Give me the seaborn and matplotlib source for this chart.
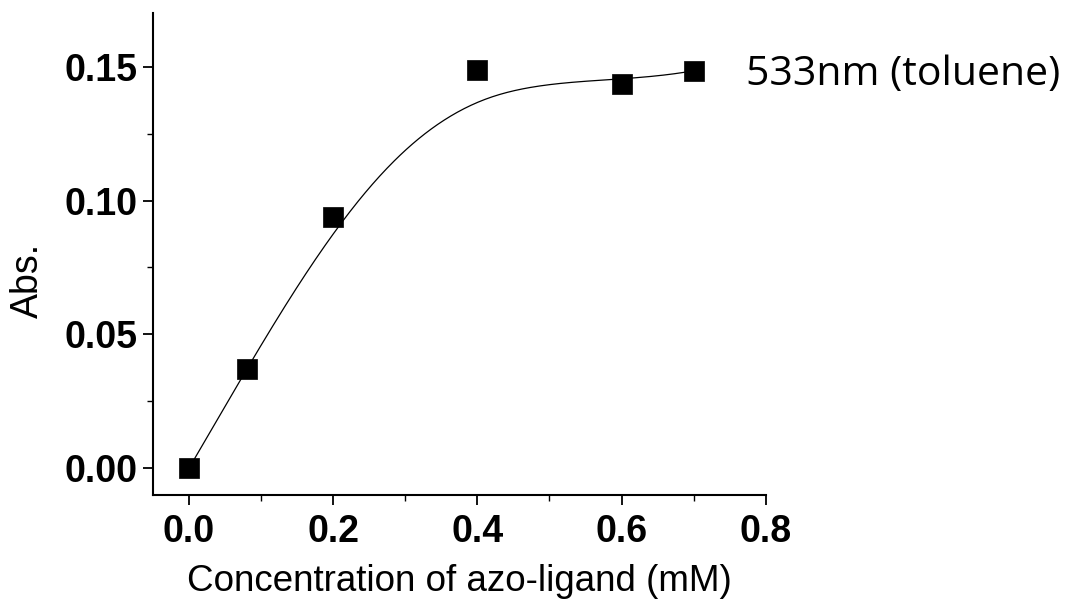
import numpy as np
import pandas as pd
import seaborn as sns
import matplotlib.pyplot as plt

# Data
conc = [0.0, 0.08, 0.2, 0.4, 0.6, 0.7]
absorb = [0.0, 0.037, 0.0937, 0.1489, 0.1437, 0.1485]
series_label = "533nm (toluene)"

sns.set_theme(style="ticks")
plt.rcParams["font.family"] = ["Liberation Sans", "DejaVu Sans"]
plt.rcParams["text.color"] = "black"
plt.rcParams["axes.labelcolor"] = "black"
plt.rcParams["xtick.color"] = "black"
plt.rcParams["ytick.color"] = "black"
plt.rcParams["axes.edgecolor"] = "black"


def bspline_curve(xs, ys, n=300, k=3):
    # clamped B-spline using the data points as control points (Origin-like connect)
    ctrl = np.column_stack([xs, ys])
    m = len(ctrl)
    inner = np.linspace(0, 1, m - k + 1)[1:-1]
    knots = np.concatenate([np.zeros(k + 1), inner, np.ones(k + 1)])
    t = np.linspace(0, 1, n)
    t[-1] = 1 - 1e-12

    def basis(i, p, u):
        if p == 0:
            return np.where((knots[i] <= u) & (u < knots[i + 1]), 1.0, 0.0)
        left = 0.0
        right = 0.0
        d1 = knots[i + p] - knots[i]
        d2 = knots[i + p + 1] - knots[i + 1]
        if d1 > 0:
            left = (u - knots[i]) / d1 * basis(i, p - 1, u)
        if d2 > 0:
            right = (knots[i + p + 1] - u) / d2 * basis(i + 1, p - 1, u)
        return left + right

    B = np.array([basis(i, k, t) for i in range(m)])
    pts = B.T @ ctrl
    return pts[:, 0], pts[:, 1]


cx, cy = bspline_curve(np.array(conc), np.array(absorb))
df_pts = pd.DataFrame({"x": conc, "y": absorb})
df_curve = pd.DataFrame({"x": cx, "y": cy})

fig = plt.figure(figsize=(10.77, 6.0), dpi=100)
ax = fig.add_axes([0.142, 0.175, 0.569, 0.803])

sns.lineplot(data=df_curve, x="x", y="y", ax=ax, color="black", linewidth=0.9,
             sort=False, estimator=None)
sns.scatterplot(data=df_pts, x="x", y="y", ax=ax, marker="s", s=220,
                color="black", edgecolor="black", linewidth=0.5, zorder=3)

ax.set_xlim(-0.05, 0.8)
ax.set_ylim(-0.01, 0.17)
ax.set_xticks([0.0, 0.2, 0.4, 0.6, 0.8])
ax.set_xticks([0.1, 0.3, 0.5, 0.7], minor=True)
ax.set_yticks([0.0, 0.05, 0.10, 0.15])
ax.set_yticks([0.025, 0.075, 0.125], minor=True)
ax.set_xticklabels(["0.0", "0.2", "0.4", "0.6", "0.8"])
ax.set_yticklabels(["0.00", "0.05", "0.10", "0.15"])

for lab in ax.get_xticklabels() + ax.get_yticklabels():
    lab.set_fontweight("bold")
    lab.set_fontsize(27)

ax.tick_params(axis="both", which="major", direction="out", length=7, width=1.3)
ax.tick_params(axis="x", which="major", pad=7)
ax.tick_params(axis="y", which="major", pad=4)
ax.tick_params(axis="both", which="minor", direction="out", length=4, width=1.0)

sns.despine(ax=ax)
for side in ["left", "bottom"]:
    ax.spines[side].set_linewidth(1.5)

ax.set_xlabel("Concentration of azo-ligand (mM)", fontsize=26.5, labelpad=10)
ax.set_ylabel("Abs.", fontsize=27)
ax.yaxis.set_label_coords(-0.174, 0.446)

fig.text(0.693, 0.875, series_label, fontsize=29.5, va="center", ha="left",
         family=["Open Sans", "DejaVu Sans"])

fig.savefig("out.png", dpi=100)
